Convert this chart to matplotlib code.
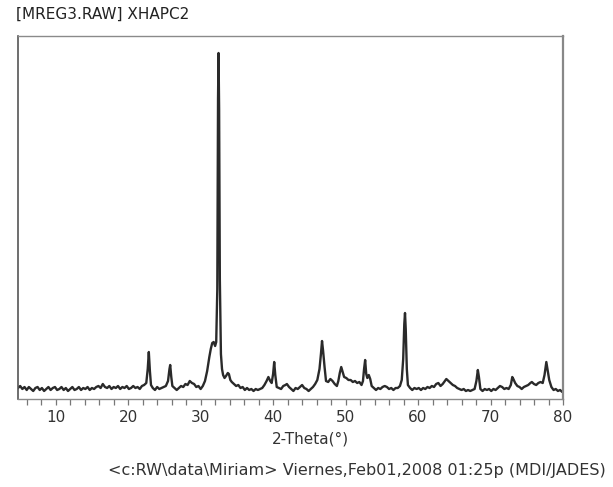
import numpy as np
import matplotlib
matplotlib.use("Agg")
import matplotlib.pyplot as plt
from matplotlib.ticker import MultipleLocator

# 2-theta (deg) and intensity (arbitrary units)
two_theta = [
    4.8, 5.1, 5.4, 5.7, 6.0, 6.3, 6.6, 6.9, 7.2, 7.5, 7.8, 8.1, 8.4, 8.7, 9.0, 9.3, 9.6, 9.9,
    10.2, 10.5, 10.8, 11.1, 11.4, 11.7, 12.0, 12.3, 12.6, 12.9, 13.2, 13.5, 13.8, 14.1, 14.4,
    14.7, 15.0, 15.3, 15.6, 15.9, 16.2, 16.5, 16.8, 17.1, 17.4, 17.7, 18.0, 18.3, 18.6, 18.9,
    19.2, 19.5, 19.8, 20.1, 20.4, 20.7, 21.0, 21.3, 21.6, 21.9, 22.2, 22.5, 22.7, 22.85, 23.0,
    23.15, 23.4, 23.7, 24.0, 24.3, 24.6, 24.9, 25.2, 25.5, 25.7, 25.8, 25.95, 26.1, 26.4, 26.7,
    27.0, 27.3, 27.6, 27.9, 28.2, 28.5, 28.8, 29.1, 29.4, 29.7, 30.0, 30.3, 30.6, 30.9, 31.2,
    31.4, 31.6, 31.8, 32.0, 32.15, 32.3, 32.4, 32.47, 32.55, 32.65, 32.8, 32.95, 33.1, 33.3,
    33.5, 33.75, 33.9, 34.1, 34.3, 34.6, 34.9, 35.2, 35.5, 35.8, 36.1, 36.4, 36.7, 37.0, 37.3,
    37.6, 37.9, 38.2, 38.5, 38.8, 39.1, 39.35, 39.6, 39.8, 40.0, 40.15, 40.3, 40.5, 40.8, 41.1,
    41.4, 41.7, 41.9, 42.2, 42.5, 42.8, 43.1, 43.4, 43.7, 44.0, 44.3, 44.6, 44.9, 45.2, 45.5,
    45.8, 46.1, 46.4, 46.6, 46.75, 46.9, 47.1, 47.3, 47.6, 47.9, 48.2, 48.5, 48.8, 49.0, 49.2,
    49.4, 49.6, 49.8, 50.1, 50.4, 50.7, 51.0, 51.3, 51.6, 51.9, 52.2, 52.4, 52.55, 52.7, 52.85,
    53.0, 53.2, 53.4, 53.6, 53.9, 54.2, 54.5, 54.8, 55.1, 55.4, 55.7, 56.0, 56.3, 56.6, 56.9,
    57.2, 57.5, 57.75, 57.95, 58.1, 58.2, 58.3, 58.45, 58.6, 58.9, 59.2, 59.5, 59.8, 60.1,
    60.4, 60.7, 61.0, 61.3, 61.6, 61.9, 62.2, 62.5, 62.8, 63.1, 63.4, 63.7, 63.9, 64.2, 64.5,
    64.8, 65.1, 65.4, 65.7, 66.0, 66.3, 66.6, 66.9, 67.2, 67.5, 67.8, 68.05, 68.25, 68.4, 68.6,
    68.9, 69.2, 69.5, 69.8, 70.1, 70.4, 70.7, 71.0, 71.3, 71.6, 71.9, 72.2, 72.5, 72.8, 73.0,
    73.15, 73.4, 73.7, 74.0, 74.3, 74.6, 74.9, 75.2, 75.5, 75.7, 76.0, 76.3, 76.6, 76.9, 77.2,
    77.45, 77.7, 77.85, 78.1, 78.4, 78.7, 79.0, 79.3, 79.6, 79.9, 80.0,
]
intensity = [
    11, 13, 10, 12, 9, 12, 10, 8, 11, 12, 9, 11, 8, 10, 12, 9, 11, 12,
    9, 10, 12, 9, 11, 8, 10, 12, 9, 10, 12, 9, 11, 10, 12,
    9, 11, 10, 12, 13, 11, 15, 12, 11, 13, 10, 12, 11, 13, 10,
    12, 11, 13, 10, 11, 13, 11, 12, 10, 13, 14, 16, 30, 47, 28,
    14, 11, 9, 12, 10, 11, 12, 13, 18, 30, 34, 22, 13, 11, 9,
    11, 13, 12, 15, 14, 18, 16, 15, 12, 13, 10, 13, 18, 28, 42,
    50, 56, 57, 53, 57, 110, 300, 346, 290, 120, 45, 30, 24, 21,
    23, 26, 25, 19, 17, 15, 13, 14, 11, 12, 9, 11, 9, 10, 8,
    10, 9, 10, 11, 14, 18, 22, 18, 16, 25, 37, 24, 12, 11, 10,
    13, 14, 15, 12, 10, 8, 11, 10, 12, 14, 11, 10, 8, 10, 12,
    15, 19, 30, 45, 58, 48, 32, 18, 17, 20, 18, 15, 13, 18, 26,
    32, 27, 22, 21, 19, 19, 17, 18, 16, 17, 14, 18, 30, 39, 25,
    21, 24, 20, 13, 11, 9, 11, 10, 12, 13, 12, 10, 11, 9, 11,
    11, 13, 19, 40, 75, 86, 70, 30, 14, 11, 9, 11, 10, 11,
    9, 11, 10, 12, 11, 13, 12, 15, 16, 13, 15, 18, 20, 18, 16,
    14, 13, 11, 10, 9, 10, 8, 9, 8, 9, 10, 18, 29, 22, 10,
    8, 10, 9, 10, 8, 10, 9, 11, 13, 12, 10, 11, 10, 14, 22,
    20, 16, 13, 12, 10, 12, 13, 14, 16, 17, 15, 14, 16, 17, 16,
    24, 37, 30, 19, 12, 9, 10, 8, 9, 7, 8,
]

fig = plt.figure(figsize=(6.13, 4.87), dpi=100)
ax = fig.add_axes([18/613, 1 - 399/487, (563 - 18)/613, (399 - 36)/487])

ax.plot(two_theta, intensity, color="#2a2a2a", lw=1.7)
ax.set_xlim(4.8, 80)
ax.set_ylim(0, 363)

ax.xaxis.set_major_locator(MultipleLocator(10))
ax.xaxis.set_minor_locator(MultipleLocator(2))
ax.tick_params(axis="x", which="both", direction="out", length=4, width=0.9,
               color="#777777", labelsize=11, pad=4, labelcolor="#333333")
ax.set_yticks([])

for side in ["top", "bottom"]:
    ax.spines[side].set_color("#8a8a8a")
    ax.spines[side].set_linewidth(1.0)
ax.spines["left"].set_color("#555555")
ax.spines["left"].set_linewidth(1.2)
ax.spines["right"].set_color("#888888")
ax.spines["right"].set_linewidth(1.6)

fig.text(16/613, 1 - 14/487, "[MREG3.RAW] XHAPC2", ha="left", va="center",
         fontsize=11, color="#222222")
fig.text(310/613, 1 - 439/487, "2-Theta(°)", ha="center", va="center",
         fontsize=11, color="#333333")
fig.text(357/613, 1 - 470/487,
         "<c:RW\\data\\Miriam> Viernes,Feb01,2008 01:25p (MDI/JADES)",
         ha="center", va="center", fontsize=11.5, color="#333333")

fig.savefig("out.png", dpi=100)
